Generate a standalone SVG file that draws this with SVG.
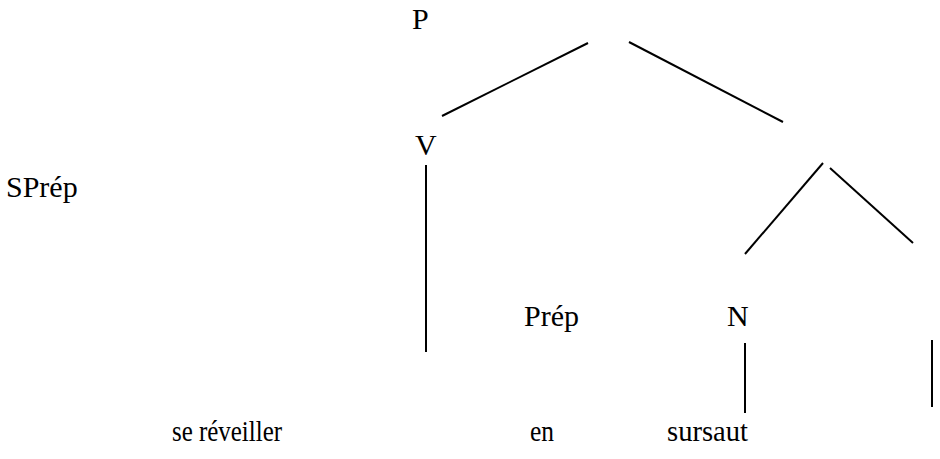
<svg xmlns="http://www.w3.org/2000/svg" width="940" height="459" viewBox="0 0 940 459">
<style>
.t{font-family:'Liberation Serif','Times New Roman',serif;font-size:30px;fill:#000}
line{stroke:#000;stroke-width:2}
</style>
<rect width="940" height="459" fill="#fff"/>
<g id="node-P"><text class="t" x="412" y="29">P</text></g>
<g id="node-V"><text class="t" x="415" y="155">V</text></g>
<g id="node-SPrep"><text class="t" x="6" y="197">SPrép</text></g>
<g id="node-Prep"><text class="t" x="524" y="326">Prép</text></g>
<g id="node-N"><text class="t" x="727" y="326">N</text></g>
<g id="leaf-se-reveiller"><text class="t" x="172" y="441" textLength="110" lengthAdjust="spacingAndGlyphs">se réveiller</text></g>
<g id="leaf-en"><text class="t" x="530" y="441" textLength="24" lengthAdjust="spacingAndGlyphs">en</text></g>
<g id="leaf-sursaut"><text class="t" x="667" y="441" textLength="81" lengthAdjust="spacingAndGlyphs">sursaut</text></g>
<g id="connectors">
<line x1="442" y1="116" x2="588" y2="43"/>
<line x1="629" y1="42" x2="783" y2="122"/>
<line x1="426" y1="165" x2="426" y2="352"/>
<line x1="823" y1="163" x2="745" y2="254"/>
<line x1="830" y1="168" x2="913" y2="243"/>
<line x1="745" y1="343" x2="745" y2="413"/>
<line x1="932" y1="340" x2="932" y2="407"/>
</g>
</svg>
